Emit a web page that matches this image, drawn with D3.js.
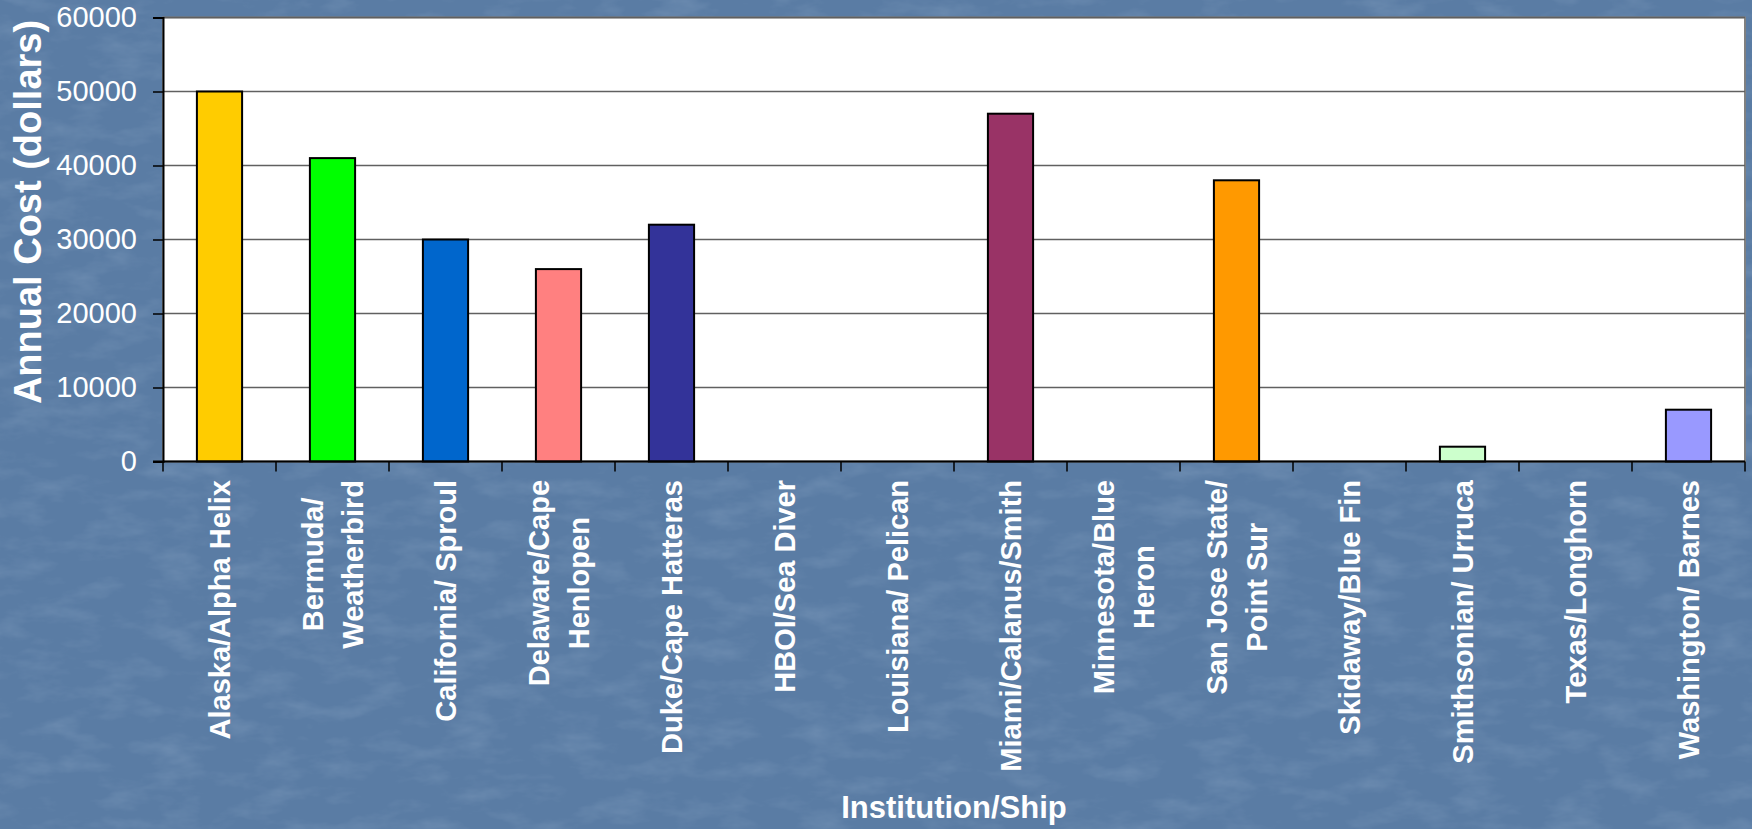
<!DOCTYPE html>
<html>
<head>
<meta charset="utf-8">
<script src="https://cdn.jsdelivr.net/npm/d3@7"></script>
<style>
  body { margin: 0; background: #5a7da5; }
  svg { display: block; }
  text { font-family: "Liberation Sans", Arial, sans-serif; fill: #fff; }
</style>
</head>
<body>
<svg id="chart"></svg>
<script>
// data
const ships = [
    ["Alaska/Alpha Helix"],
    ["Bermuda/", "Weatherbird"],
    ["California/ Sproul"],
    ["Delaware/Cape", "Henlopen"],
    ["Duke/Cape Hatteras"],
    ["HBOI/Sea Diver"],
    ["Louisiana/ Pelican"],
    ["Miami/Calanus/Smith"],
    ["Minnesota/Blue", "Heron"],
    ["San Jose State/", "Point Sur"],
    ["Skidaway/Blue Fin"],
    ["Smithsonian/ Urruca"],
    ["Texas/Longhorn"],
    ["Washington/ Barnes"]
];
const annualCost = [50000, 41000, 30000, 26000, 32000, 0, 0, 47000, 0, 38000, 0, 2000, 0, 7000];
const barColors = ["#ffcc00", "#00ff00", "#0066cc", "#ff8080", "#333399", "#00ccff", "#ccffff",
                   "#993366", "#ffff99", "#ff9900", "#99ccff", "#ccffcc", "#ff99cc", "#9999ff"];
const yTicks = [0, 10000, 20000, 30000, 40000, 50000, 60000];

const width = 1752;
const height = 829;
const plot = { left: 163, right: 1745, top: 17.5, bottom: 461.5 };

const svg = d3.select("#chart")
    .attr("width", width)
    .attr("height", height);

// textured blue slide background
const defs = svg.append("defs");
const tex = defs.append("filter").attr("id", "tex")
    .attr("x", 0).attr("y", 0).attr("width", "100%").attr("height", "100%");
tex.append("feTurbulence")
    .attr("type", "fractalNoise")
    .attr("baseFrequency", "0.02 0.05")
    .attr("numOctaves", 4)
    .attr("seed", 7);
tex.append("feColorMatrix")
    .attr("type", "matrix")
    .attr("values", "0 0 0 0 0.45  0 0 0 0 0.58  0 0 0 0 0.74  0 0 0 1.0 -0.45");

svg.append("rect").attr("width", width).attr("height", height).attr("fill", "#5a7ca4");
svg.append("rect").attr("width", width).attr("height", height)
    .attr("filter", "url(#tex)").attr("opacity", 0.4);

const x = d3.scaleBand()
    .domain(d3.range(ships.length))
    .range([plot.left, plot.right])
    .paddingInner(0.6)
    .paddingOuter(0.3);

const y = d3.scaleLinear()
    .domain([0, 60000])
    .range([plot.bottom, plot.top]);

// plot area
svg.append("rect")
    .attr("x", plot.left).attr("y", plot.top)
    .attr("width", plot.right - plot.left).attr("height", plot.bottom - plot.top)
    .attr("fill", "#fff")
    .attr("stroke", "#808080")
    .attr("stroke-width", 2);

// gridlines
svg.append("g")
    .selectAll("line")
    .data(yTicks.filter(d => d > 0))
    .enter()
    .append("line")
    .attr("x1", plot.left).attr("x2", plot.right)
    .attr("y1", d => y(d)).attr("y2", d => y(d))
    .attr("stroke", "#606060")
    .attr("stroke-width", 1.5);

// bars
svg.append("g")
    .selectAll("rect")
    .data(annualCost)
    .enter()
    .append("rect")
    .attr("x", (d, i) => x(i))
    .attr("y", d => y(d))
    .attr("width", x.bandwidth())
    .attr("height", d => y(0) - y(d))
    .attr("fill", (d, i) => barColors[i])
    .attr("stroke", "#000")
    .attr("stroke-width", d => d > 0 ? 2 : 0);

// y axis
const yAxis = svg.append("g")
    .attr("transform", `translate(${plot.left},0)`)
    .call(d3.axisLeft(y).tickValues(yTicks).tickSize(10).tickPadding(16).tickFormat(d3.format("d")));
yAxis.select(".domain").attr("stroke", "#000").attr("stroke-width", 2);
yAxis.selectAll(".tick line").attr("stroke", "#000").attr("stroke-width", 1.5);
yAxis.selectAll(".tick text")
    .attr("fill", "#fff")
    .style("font-size", "29px")
    .style("font-family", "'Liberation Sans', Arial, sans-serif");

// x axis line with ticks at band edges
const xAxis = svg.append("g");
xAxis.append("line")
    .attr("x1", plot.left - 10).attr("x2", plot.right)
    .attr("y1", plot.bottom).attr("y2", plot.bottom)
    .attr("stroke", "#000").attr("stroke-width", 2);
xAxis.selectAll(".xt")
    .data(d3.range(ships.length + 1))
    .enter()
    .append("line")
    .attr("class", "xt")
    .attr("x1", i => plot.left + i * x.step()).attr("x2", i => plot.left + i * x.step())
    .attr("y1", plot.bottom).attr("y2", plot.bottom + 10)
    .attr("stroke", "#000").attr("stroke-width", 1.5);

// rotated category labels, lines centred on each other
const labelTop = 480;
const labels = svg.append("g")
    .selectAll("g")
    .data(ships)
    .enter()
    .append("g");

labels.each(function(lines, i) {
    const g = d3.select(this);
    const texts = g.selectAll("text")
        .data(lines)
        .enter()
        .append("text")
        .attr("text-anchor", "middle")
        .attr("x", 0)
        .attr("y", (d, j) => (j - (lines.length - 1) / 2) * 40 + 10)
        .style("font-size", "29px")
        .style("font-weight", "bold")
        .text(d => d);
    const maxLen = d3.max(texts.nodes(), n => n.getComputedTextLength());
    g.attr("transform", `translate(${x(i) + x.bandwidth() / 2},${labelTop + maxLen / 2}) rotate(-90)`);
});

// axis titles
svg.append("text")
    .attr("x", (plot.left + plot.right) / 2)
    .attr("y", 818)
    .attr("text-anchor", "middle")
    .style("font-size", "31px")
    .style("font-weight", "bold")
    .text("Institution/Ship");

svg.append("text")
    .attr("transform", "translate(41,212) rotate(-90)")
    .attr("text-anchor", "middle")
    .style("font-size", "38px")
    .style("font-weight", "bold")
    .text("Annual Cost (dollars)");
</script>
</body>
</html>
